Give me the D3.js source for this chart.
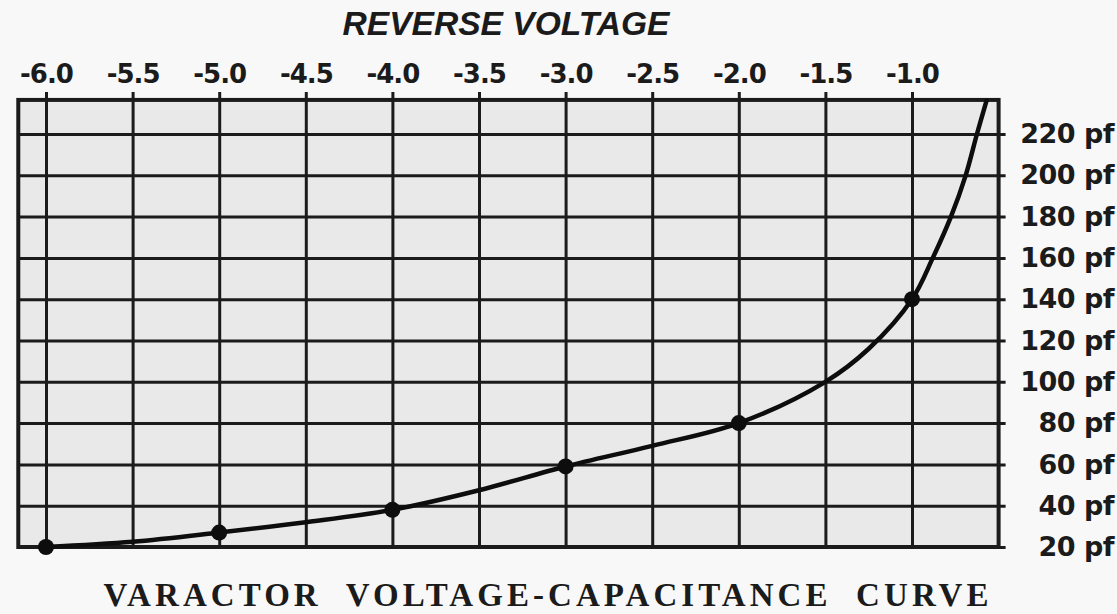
<!DOCTYPE html>
<html>
<head>
<meta charset="utf-8">
<script src="https://cdn.jsdelivr.net/npm/d3@7"></script>
<style>
  body { margin: 0; background: #f8f8f8; }
  svg { display: block; }
</style>
</head>
<body>
<svg width="1117" height="614"></svg>
<script>
// chart data
var xTicks = [-6.0, -5.5, -5.0, -4.5, -4.0, -3.5, -3.0, -2.5, -2.0, -1.5, -1.0];
var xTickLabels = ["-6.0", "-5.5", "-5.0", "-4.5", "-4.0", "-3.5", "-3.0", "-2.5", "-2.0", "-1.5", "-1.0"];
var yTicks = [20, 40, 60, 80, 100, 120, 140, 160, 180, 200, 220];
var yTickLabels = ["20 pf", "40 pf", "60 pf", "80 pf", "100 pf", "120 pf", "140 pf", "160 pf", "180 pf", "200 pf", "220 pf"];

// measured points (black dots)
var dotVolts = [-6.0, -5.0, -4.0, -3.0, -2.0, -1.0];
var dotPf = [20, 27, 38, 59, 80, 140];

// the drawn curve
var curveVolts = [-6.0, -5.5, -5.0, -4.5, -4.0, -3.5, -3.0, -2.5, -2.0, -1.5, -1.25, -1.0, -0.88, -0.775, -0.69, -0.625, -0.57];
var curvePf = [20, 22.5, 27, 32, 38, 47.5, 59, 69, 80, 100, 116, 140, 160, 180, 200, 220, 236];

var svg = d3.select("svg"),
    width = +svg.attr("width"),
    height = +svg.attr("height");

var ink = "#1b1b1b";

// scales
var x = d3.scaleLinear().domain([-6, -1]).range([46, 912]);
var y = d3.scaleLinear().domain([20, 220]).range([547, 134]);

var xMin = -6.16, xMax = -0.5, yMax = 236.5;
var plotL = x(xMin), plotR = x(xMax), plotT = y(yMax), plotB = y(20);

// page + plot background
svg.append("rect")
    .attr("width", width).attr("height", height)
    .attr("fill", "#f8f8f8");

svg.append("rect")
    .attr("x", plotL).attr("y", plotT)
    .attr("width", plotR - plotL).attr("height", plotB - plotT)
    .attr("fill", "#e9e9e9");

// vertical grid + top labels
var xAxis = svg.append("g")
    .attr("transform", "translate(0," + (plotT - 8) + ")")
    .call(d3.axisTop(x)
        .tickValues(xTicks)
        .tickSize(-(plotB - plotT + 8))
        .tickPadding(9)
        .tickFormat(function(d, i) { return xTickLabels[i]; }));

xAxis.select(".domain").remove();
xAxis.selectAll(".tick line")
    .attr("stroke", ink)
    .attr("stroke-width", 3);
xAxis.selectAll(".tick text")
    .attr("fill", ink)
    .style("font-family", "DejaVu Sans, sans-serif")
    .style("font-weight", "bold")
    .style("font-size", "26px")
    .style("letter-spacing", "-1px");

// horizontal grid + right labels
var yAxis = svg.append("g")
    .attr("transform", "translate(" + (plotR + 7) + ",0)")
    .call(d3.axisRight(y)
        .tickValues(yTicks)
        .tickSize(-(plotR + 7 - plotL))
        .tickFormat(function(d, i) { return yTickLabels[i]; }));

yAxis.select(".domain").remove();
yAxis.selectAll(".tick line")
    .attr("stroke", ink)
    .attr("stroke-width", 3);
yAxis.selectAll(".tick text")
    .attr("x", width - 3 - (plotR + 7))
    .attr("text-anchor", "end")
    .attr("fill", ink)
    .style("font-family", "DejaVu Sans, sans-serif")
    .style("font-weight", "bold")
    .style("font-size", "27px")
    .style("letter-spacing", "-0.5px");

// frame
svg.append("rect")
    .attr("x", plotL).attr("y", plotT)
    .attr("width", plotR - plotL).attr("height", plotB - plotT)
    .attr("fill", "none")
    .attr("stroke", ink)
    .attr("stroke-width", 4);

// curve
var line = d3.line()
    .x(function(d) { return x(d[0]); })
    .y(function(d) { return y(d[1]); })
    .curve(d3.curveCatmullRom.alpha(0.5));

svg.append("path")
    .datum(curveVolts.map(function(v, i) { return [v, curvePf[i]]; }))
    .attr("d", line)
    .attr("fill", "none")
    .attr("stroke", "#0d0d0d")
    .attr("stroke-width", 4.5)
    .attr("stroke-linecap", "round");

svg.selectAll("circle.dot")
    .data(dotVolts)
    .enter().append("circle")
        .attr("class", "dot")
        .attr("cx", function(d) { return x(d); })
        .attr("cy", function(d, i) { return y(dotPf[i]); })
        .attr("r", 8)
        .attr("fill", "#0d0d0d");

// titles
svg.append("text")
    .attr("x", 506).attr("y", 35)
    .attr("text-anchor", "middle")
    .attr("textLength", 327)
    .attr("lengthAdjust", "spacingAndGlyphs")
    .attr("fill", ink)
    .style("font-family", "Liberation Sans, Arial, sans-serif")
    .style("font-weight", "bold")
    .style("font-style", "italic")
    .style("font-size", "33px")
    .text("REVERSE VOLTAGE");

svg.append("text")
    .attr("x", 546).attr("y", 606)
    .attr("text-anchor", "middle")
    .attr("textLength", 885)
    .attr("lengthAdjust", "spacing")
    .attr("fill", ink)
    .style("font-family", "Liberation Serif, Times New Roman, serif")
    .style("font-weight", "bold")
    .style("font-size", "33px")
    .style("white-space", "pre")
    .text("VARACTOR  VOLTAGE-CAPACITANCE  CURVE");
</script>
</body>
</html>
